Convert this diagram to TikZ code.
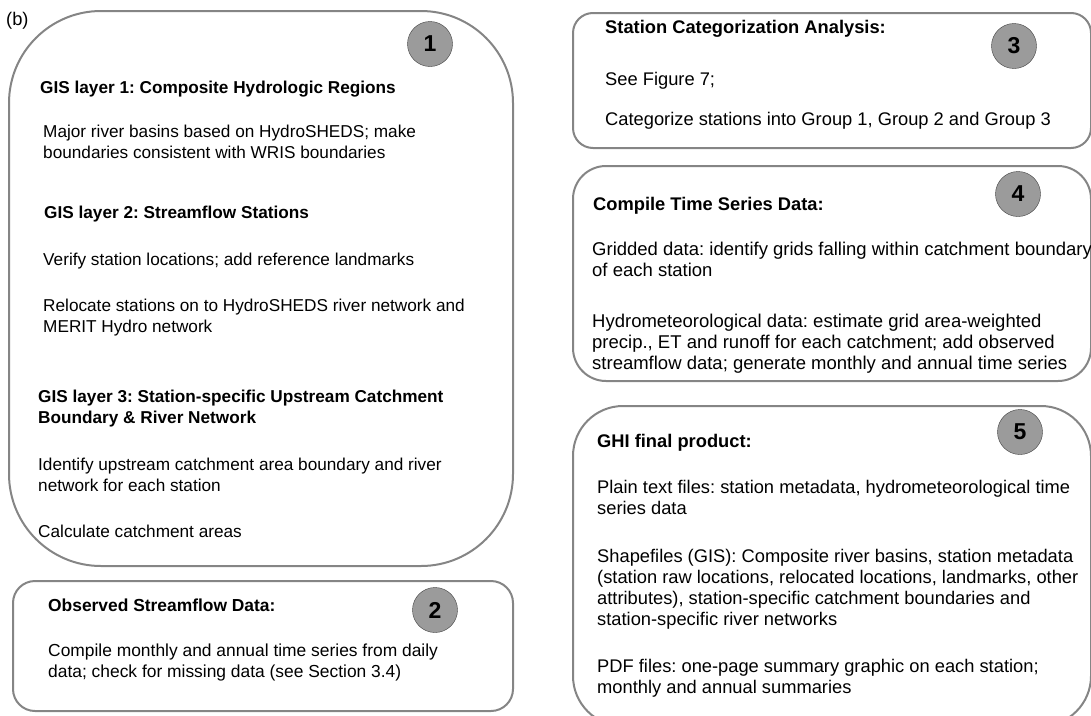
\documentclass[tikz,border=0pt]{standalone}
\usepackage{fontspec}
\setmainfont{Liberation Sans}
\usetikzlibrary{positioning}
\frenchspacing

\definecolor{panelgray}{HTML}{858585}
\definecolor{badgegray}{HTML}{9B9B9B}

\begin{document}
\begin{tikzpicture}[
    x = 1pt, y = -1pt, % pixel grid of the figure
    panel/.style = {draw = panelgray, line width = 2pt, fill = white,
        anchor = north west, inner sep = 0pt},
    badge/.style = {circle, draw = black!75, fill = badgegray,
        minimum size = 45pt, inner sep = 0pt,
        font = \fontsize{23}{23}\selectfont\bfseries},
    head/.style = {anchor = base west, inner sep = 0pt, align = left,
        font = \fontsize{#1}{21}\selectfont\bfseries},
    head/.default = 18.3,
    body/.style = {anchor = base west, inner sep = 0pt, align = left,
        font = \fontsize{#1}{21}\selectfont},
    body/.default = 18.3
    ]

    \path[use as bounding box, clip] (0,0) rectangle (1091,715);

    % panels
    \node[panel, rounded corners = 92pt, minimum width = 504pt,
        minimum height = 555pt] (box1) at (8,10) {};
    \node[panel, rounded corners = 22pt, minimum width = 500pt,
        minimum height = 130pt] (box2) at (12,580) {};
    \node[panel, rounded corners = 20pt, minimum width = 518pt,
        minimum height = 135pt] (box3) at (572,12) {};
    \node[panel, rounded corners = 33pt, minimum width = 518pt,
        minimum height = 215pt] (box4) at (572,165) {};
    \node[panel, rounded corners = 50pt, minimum width = 518pt,
        minimum height = 320pt] (box5) at (572,405) {};

    % step numbers
    \node[badge] (num1) at (430,44) {1};
    \node[badge] (num2) at (435,610) {2};
    \node[badge] (num3) at (1014,46) {3};
    \node[badge] (num4) at (1018,194) {4};
    \node[badge] (num5) at (1020,432) {5};

    \node[body] (label) at (6,25) {(b)};

    % panel 1 (multi-line texts sit on their last line)
    \node[head=17.2] (gis1) at (40,93) {GIS layer 1: Composite Hydrologic Regions};
    \node[body=17.2] (gis1a) at (43,158) {Major river basins based on HydroSHEDS; make\\boundaries consistent with WRIS boundaries};
    \node[head=17.2] (gis2) at (44,218) {GIS layer 2: Streamflow Stations};
    \node[body=17.2] (gis2a) at (43,265) {Verify station locations; add reference landmarks};
    \node[body=17.2] (gis2b) at (43,332) {Relocate stations on to HydroSHEDS river network and\\MERIT Hydro network};
    \node[head=17.2] (gis3) at (38,423) {GIS layer 3: Station-specific Upstream Catchment\\Boundary \& River Network};
    \node[body=17.2] (gis3a) at (38,491) {Identify upstream catchment area boundary and river\\network for each station};
    \node[body=17.2] (gis3b) at (38,537) {Calculate catchment areas};

    % panel 2
    \node[head=17.4] (obs) at (48,611) {Observed Streamflow Data:};
    \node[body=17.4] (obsa) at (48,677) {Compile monthly and annual time series from daily\\data; check for missing data (see Section 3.4)};

    % panel 3
    \node[head] (cat) at (605,33) {Station Categorization Analysis:};
    \node[body] (cata) at (605,85) {See Figure 7;};
    \node[body] (catb) at (605,125) {Categorize stations into Group 1, Group 2 and Group 3};

    % panel 4
    \node[head] (ts) at (593,210) {Compile Time Series Data:};
    \node[body=18.5] (tsa) at (592,276) {Gridded data: identify grids falling within catchment boundary\\of each station};
    \node[body=18.5] (tsb) at (592,369) {Hydrometeorological data: estimate grid area-weighted\\precip., ET and runoff for each catchment; add observed\\streamflow data; generate monthly and annual time series};

    % panel 5
    \node[head] (ghi) at (597,447) {GHI final product:};
    \node[body] (ghia) at (597,514) {Plain text files: station metadata, hydrometeorological time\\series data};
    \node[body] (ghib) at (597,625) {Shapefiles (GIS): Composite river basins, station metadata\\(station raw locations, relocated locations, landmarks, other\\attributes), station-specific catchment boundaries and\\station-specific river networks};
    \node[body] (ghic) at (597,693) {PDF files: one-page summary graphic on each station;\\monthly and annual summaries};
\end{tikzpicture}
\end{document}
